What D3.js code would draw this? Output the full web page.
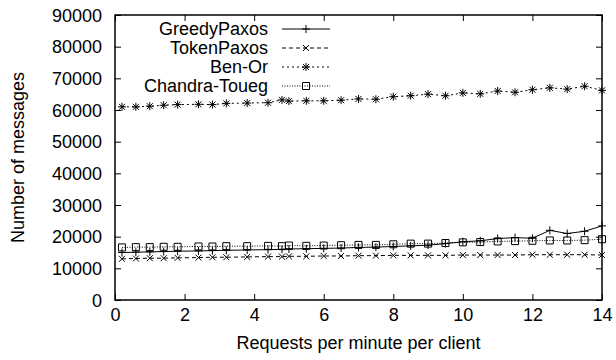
<!DOCTYPE html>
<html><head><meta charset="utf-8">
<script src="https://cdn.jsdelivr.net/npm/d3@7"></script>
<style>body{margin:0;background:#fff}svg text{font-family:"Liberation Sans",Arial,sans-serif;fill:#000}</style>
</head><body><svg id="c" width="616" height="360"></svg>
<script>
const xValues = [0.2,0.6,1.0,1.4,1.8,2.4,2.8,3.2,3.8,4.4,4.8,5.0,5.5,6.0,6.5,7.0,7.5,8.0,8.5,9.0,9.5,10.0,10.5,11.0,11.5,12.0,12.5,13.0,13.5,14.0];
const greedyPaxos = [15000,15100,15200,15300,15400,15500,15600,15700,15800,15900,16000,16100,16200,16300,16400,16600,16700,16900,17100,17300,17800,18400,18700,19400,19700,19500,22000,21000,21700,23400];
const tokenPaxos = [13000,13100,13200,13200,13300,13400,13500,13500,13600,13700,13700,13800,13800,13900,13900,14000,14000,14100,14100,14100,14100,14200,14200,14200,14200,14300,14300,14300,14300,14200];
const benOr = [61000,61000,61200,61500,61700,61800,61700,62100,62200,62300,63200,62800,62900,62900,63100,63500,63400,64200,64500,65000,64500,65400,65100,66000,65600,66400,67000,66600,67500,66200];
const chandraToueg = [16600,16700,16700,16800,16800,16900,16900,17000,17000,17100,17000,17200,17100,17200,17300,17400,17400,17600,17800,17800,18000,18200,18300,18500,18600,18700,18800,18800,18900,19200];
const seriesNames = ["GreedyPaxos","TokenPaxos","Ben-Or","Chandra-Toueg"];
const xTicks = [0,2,4,6,8,10,12,14];
const yTicks = [0,10000,20000,30000,40000,50000,60000,70000,80000,90000];

const svg = d3.select("#c");
const L=115,R=602,T=15,B=300;
const x = d3.scaleLinear().domain([0,14]).range([L,R]);
const y = d3.scaleLinear().domain([0,90000]).range([B,T]);
const fs = 18;

const sym = {
  plus: "M-4,0H4M0,-4V4",
  cross: "M-3,-3L3,3M-3,3L3,-3",
  star: "M-4,0H4M0,-4V4M-3,-3L3,3M-3,3L3,-3",
  square: "M-3.5,-3.5H3.5V3.5H-3.5Z"
};
const series = [
  {name:seriesNames[0], vals:greedyPaxos, dash:null, sym:"plus"},
  {name:seriesNames[1], vals:tokenPaxos, dash:"4,3", sym:"cross"},
  {name:seriesNames[2], vals:benOr, dash:"2,3", sym:"star"},
  {name:seriesNames[3], vals:chandraToueg, dash:"1,1.5", sym:"square"}
];

const tl = 6;
const gl = svg.append("g").attr("transform",`translate(${L},0)`).call(d3.axisLeft(y).tickValues(yTicks).tickSize(-tl).tickPadding(13).tickFormat(d3.format("d")));
const gr = svg.append("g").attr("transform",`translate(${R},0)`).call(d3.axisRight(y).tickValues(yTicks).tickSize(-tl).tickFormat(""));
const gb = svg.append("g").attr("transform",`translate(0,${B})`).call(d3.axisBottom(x).tickValues(xTicks).tickSize(-tl).tickPadding(8));
const gt = svg.append("g").attr("transform",`translate(0,${T})`).call(d3.axisTop(x).tickValues(xTicks).tickSize(-tl).tickFormat(""));
[gl,gr,gb,gt].forEach(g=>{
  g.select(".domain").remove();
  g.selectAll("line").attr("stroke","#000").attr("stroke-width",1);
  g.selectAll("text").attr("font-size",fs).attr("font-family","Liberation Sans, Arial, sans-serif");
});
gl.selectAll("text").attr("dy","0.35em");

svg.append("rect").attr("x",L).attr("y",T).attr("width",R-L).attr("height",B-T)
  .attr("fill","none").attr("stroke","#000").attr("stroke-width",1.5);

const line = d3.line().x((d,i)=>x(xValues[i])).y(d=>y(d));
series.forEach(s=>{
  svg.append("path").datum(s.vals).attr("d",line).attr("fill","none")
    .attr("stroke","#000").attr("stroke-width",1).attr("stroke-dasharray",s.dash);
  svg.append("g").selectAll("path").data(s.vals).join("path")
    .attr("transform",(d,i)=>`translate(${x(xValues[i])},${y(d)})`)
    .attr("d",sym[s.sym]).attr("fill","none").attr("stroke","#000").attr("stroke-width",1);
});

const lg = svg.append("g");
series.forEach((s,i)=>{
  const yy = 29 + i*19;
  lg.append("text").attr("x",268).attr("y",yy).attr("dy","0.35em").attr("text-anchor","end").attr("font-size",fs).text(s.name);
  lg.append("line").attr("x1",282).attr("x2",330).attr("y1",yy).attr("y2",yy)
    .attr("stroke","#000").attr("stroke-width",1).attr("stroke-dasharray",s.dash);
  lg.append("path").attr("transform",`translate(306,${yy})`).attr("d",sym[s.sym]).attr("fill","none").attr("stroke","#000");
});

svg.append("text").attr("x",(L+R)/2).attr("y",343).attr("dy","0.35em").attr("text-anchor","middle").attr("font-size",fs).text("Requests per minute per client");
svg.append("text").attr("transform",`translate(18,${(T+B)/2}) rotate(-90)`).attr("dy","0.35em").attr("text-anchor","middle").attr("font-size",fs).text("Number of messages");
</script></body></html>
